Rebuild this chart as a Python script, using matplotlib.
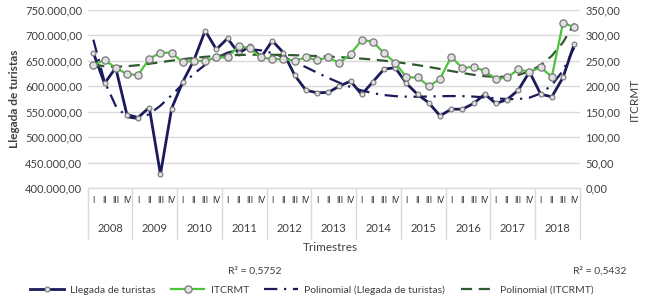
import numpy as np
import matplotlib
matplotlib.use("Agg")
import matplotlib.pyplot as plt
from matplotlib.ticker import FuncFormatter

plt.rcParams['font.family'] = ['Lato', 'DejaVu Sans']

years = [str(y) for y in range(2008, 2019)]
quarters = ["I", "II", "III", "IV"]

llegada = [666000, 605600, 636500, 544600, 538700, 558400, 427200, 556400,
           608900, 651600, 709300, 672600, 694200, 664700, 679100, 656800,
           689600, 666000, 622000, 592500, 587300, 588000, 600400, 610200,
           584000, 609000, 633900, 636500, 605600, 584000, 567600, 542000,
           555100, 555100, 566300, 584600, 566300, 574100, 592500, 628600,
           584600, 579400, 617500, 683100]

itcrmt = [241.7, 251.6, 236.5, 224.0, 222.0, 254.2, 266.0, 266.0,
          247.0, 250.3, 249.6, 256.8, 256.8, 279.1, 274.5, 256.8,
          253.5, 253.5, 250.3, 256.8, 251.6, 256.8, 245.7, 263.4,
          291.0, 287.7, 264.7, 246.3, 217.5, 217.5, 200.4, 214.2,
          258.1, 235.8, 238.5, 230.0, 214.2, 217.5, 233.2, 228.6,
          237.1, 218.8, 325.0, 315.9]

r2_llegada = "0,5752"
r2_itcrmt = "0,5432"

navy = "#1b1b5c"
green = "#4cc43c"
dkgreen = "#2e5a2e"
grid_c = "#d9d9d9"

n = len(llegada)
x = np.arange(n)

# polynomial trendlines (Excel style, x = 1..n)
t = x + 1
fit_l = np.polynomial.Polynomial.fit(t, llegada, 6)(t)
fit_i = np.polynomial.Polynomial.fit(t, itcrmt, 6)(t)


def fmt_left(v, pos):
    s = "{:,.2f}".format(v)
    return s.replace(",", "X").replace(".", ",").replace("X", ".")


fig = plt.figure(figsize=(6.5, 3.02), dpi=100)
ax = fig.add_axes([0.135, 0.377, 0.757, 0.590])
ax2 = ax.twinx()

ax.plot(x, llegada, color=navy, lw=2.0, marker="o", ms=3.5,
        mfc="#e0e0e0", mec="#777777", mew=0.8, label="Llegada de turistas", zorder=3)
ax2.plot(x, itcrmt, color=green, lw=1.6, marker="o", ms=5.2,
         mfc="#e0e0e0", mec="#777777", mew=0.9, label="ITCRMT", zorder=3)
ax.plot(x, fit_l, color=navy, lw=1.6, ls=(0, (6, 3, 1, 3)),
        label="Polinomial (Llegada de turistas)", zorder=2)
ax2.plot(x, fit_i, color=dkgreen, lw=1.6, ls=(0, (5, 3)),
         label="Polinomial (ITCRMT)", zorder=2)

ax.set_ylim(400000, 750000)
ax.set_yticks(np.arange(400000, 750001, 50000))
ax.yaxis.set_major_formatter(FuncFormatter(fmt_left))
ax2.set_ylim(0, 350)
ax2.set_yticks(np.arange(0, 351, 50))
ax2.yaxis.set_major_formatter(FuncFormatter(lambda v, p: "{:.2f}".format(v).replace(".", ",")))
ax.set_xlim(-0.5, n - 0.5)

ax.grid(axis="y", color=grid_c, lw=1.0)
ax.set_axisbelow(True)
for a in (ax, ax2):
    for s in ["top", "left", "right"]:
        a.spines[s].set_visible(False)
    a.spines["bottom"].set_color(grid_c)
    a.tick_params(axis="y", length=0, labelsize=8, colors="#404040", pad=4)

# quarter labels
ax.set_xticks(x, labels=quarters * len(years))
ax.tick_params(axis="x", which="major", length=0, labelsize=6.2, colors="#303030", pad=6)
# year separators
ax.set_xticks(np.arange(-0.5, n, 4), minor=True)
ax.tick_params(axis="x", which="minor", length=37, color=grid_c, width=1.0)
# year labels
sec = ax.secondary_xaxis(location=0)
sec.set_xticks(np.arange(1.5, n, 4), labels=years)
sec.tick_params(length=0, pad=25, labelsize=8, colors="#404040")
sec.spines["bottom"].set_visible(False)

ax.set_ylabel("Llegada de turistas", fontsize=8.5, fontweight="bold", color="#404040", labelpad=4)
ax2.set_ylabel("ITCRMT", fontsize=8.5, color="#404040", labelpad=6)
fig.text(0.508, 0.182, "Trimestres", fontsize=8.5, color="#404040", ha="center", va="center")

fig.text(0.392, 0.103, "R² = " + r2_llegada, fontsize=7.5, color="#404040", ha="center", va="center")
fig.text(0.923, 0.103, "R² = " + r2_itcrmt, fontsize=7.5, color="#404040", ha="center", va="center")

h1, l1 = ax.get_legend_handles_labels()
h2, l2 = ax2.get_legend_handles_labels()
handles = [h1[0], h2[0], h1[1], h2[1]]
labels = [l1[0], l2[0], l1[1], l2[1]]
fig.legend(handles, labels, loc="center", bbox_to_anchor=(0.48, 0.04), ncol=4,
           frameon=False, fontsize=7.5, handlelength=3.2, columnspacing=1.5,
           handletextpad=0.6, labelcolor="#404040")

fig.savefig("out.png", dpi=100)
